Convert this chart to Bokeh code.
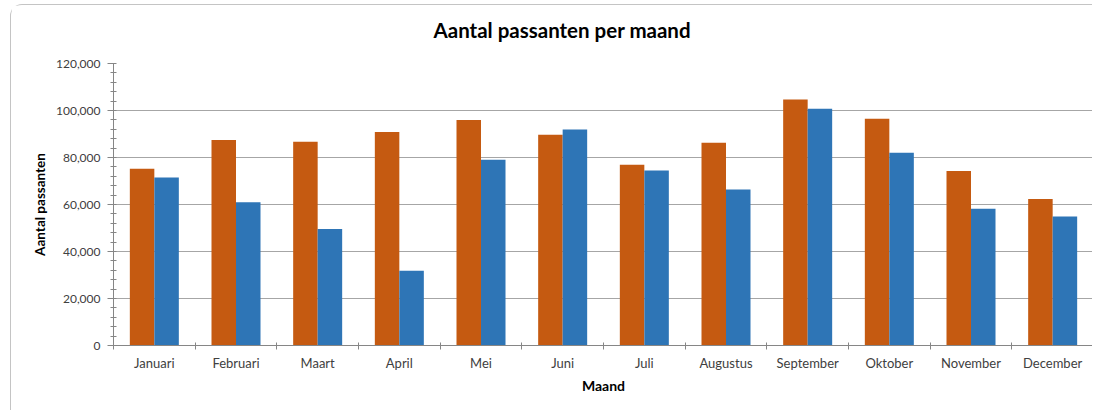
from bokeh.plotting import figure
from bokeh.models import (ColumnDataSource, Range1d, SingleIntervalTicker, FixedTicker,
                          NumeralTickFormatter, CustomJSTickFormatter, Title)
from bokeh.embed import file_html
from bokeh.resources import INLINE

title_text = "Aantal passanten per maand"
months = ["Januari", "Februari", "Maart", "April", "Mei", "Juni", "Juli",
          "Augustus", "September", "Oktober", "November", "December"]
series_a = [75200, 87500, 86700, 90900, 96000, 89700, 76900, 86300, 104700, 96500, 74300, 62300]
series_b = [71500, 61000, 49600, 31800, 79000, 91900, 74500, 66400, 100700, 82000, 58200, 54900]

FONT = "Lato"
ORANGE = "#C55A11"
BLUE = "#2E75B6"

idx = list(range(len(months)))
bar_w = 0.3
src = ColumnDataSource(dict(
    xa=[i + 0.5 - bar_w / 2 for i in idx],
    xb=[i + 0.5 + bar_w / 2 for i in idx],
    a=series_a, b=series_b, m=months))

p = figure(width=1082, height=406, output_backend="svg", toolbar_location=None,
           x_range=Range1d(0, len(months)), y_range=Range1d(0, 120000),
           min_border_left=102, min_border_right=0, min_border_top=58, min_border_bottom=66)
p.styles = {"margin-left": "10px", "margin-top": "4px",
            "border-left": "1px solid #c4c4c4", "border-top": "1px solid #c4c4c4",
            "border-top-left-radius": "12px"}

p.vbar(x="xa", top="a", width=bar_w, source=src, fill_color=ORANGE, line_color=None)
p.vbar(x="xb", top="b", width=bar_w, source=src, fill_color=BLUE, line_color=None)

# spacer between plot frame and title (first "above" panel sits nearest the frame)
p.add_layout(Title(text=" ", text_font_size="1px", standoff=14), "above")
p.add_layout(Title(text=title_text, text_font=FONT, text_font_size="20.5px",
                   text_font_style="bold", text_color="#000000",
                   align="left", offset=320, standoff=10), "above")

p.outline_line_color = None
p.background_fill_color = "white"
p.border_fill_color = "white"

# grid
p.xgrid.grid_line_color = None
p.ygrid.grid_line_color = "#a6a6a6"
p.ygrid.grid_line_width = 1

# y axis
ya = p.yaxis[0]
ya.ticker = SingleIntervalTicker(interval=20000, num_minor_ticks=5)
ya.formatter = NumeralTickFormatter(format="0,0")
ya.axis_line_color = "#868686"
ya.major_tick_line_color = "#868686"
ya.minor_tick_line_color = "#868686"
ya.major_tick_out = 6
ya.major_tick_in = 0
ya.minor_tick_out = 3
ya.minor_tick_in = 3
ya.major_label_standoff = 7
ya.major_label_text_font = FONT
ya.major_label_text_font_size = "12px"
ya.major_label_text_color = "#404040"
ya.axis_label = "Aantal passanten"
ya.axis_label_text_font = FONT
ya.axis_label_text_font_size = "13.5px"
ya.axis_label_text_font_style = "bold"
ya.axis_label_text_color = "#000000"
ya.axis_label_standoff = 5

# x axis
xa = p.xaxis[0]
xa.ticker = FixedTicker(ticks=[i + 0.5 for i in idx], minor_ticks=list(range(len(months) + 1)))
xa.formatter = CustomJSTickFormatter(args=dict(labels=months),
                                     code="return labels[Math.floor(tick)];")
xa.axis_line_color = "#868686"
xa.major_tick_line_color = None
xa.major_tick_out = 0
xa.major_tick_in = 0
xa.minor_tick_line_color = "#868686"
xa.minor_tick_out = 4
xa.minor_tick_in = 3
xa.major_label_standoff = 5
xa.major_label_text_font = FONT
xa.major_label_text_font_size = "13px"
xa.major_label_text_color = "#404040"
xa.axis_label = "Maand"
xa.axis_label_text_font = FONT
xa.axis_label_text_font_size = "14px"
xa.axis_label_text_font_style = "bold"
xa.axis_label_text_color = "#000000"
xa.axis_label_standoff = 3

open("out.html", "w").write(file_html(p, INLINE))
